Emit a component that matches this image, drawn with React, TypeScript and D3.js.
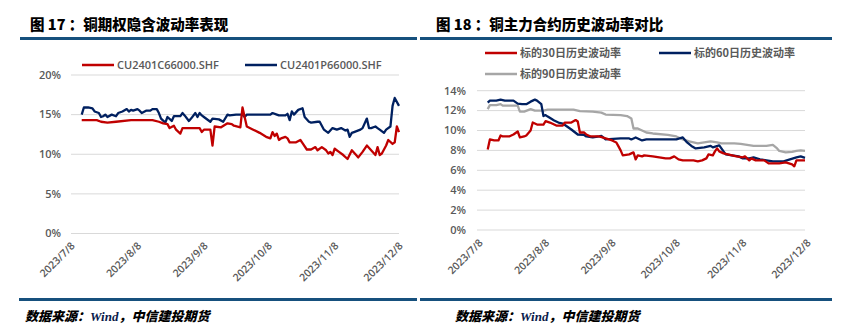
import React from "react";
import * as d3 from "d3";

type P = [string, number];

const tickDates = ["2023-07-08", "2023-08-08", "2023-09-08", "2023-10-08", "2023-11-08", "2023-12-08"];
const tickLabels = ["2023/7/8", "2023/8/8", "2023/9/8", "2023/10/8", "2023/11/8", "2023/12/8"];

const leftTicks = [0, 5, 10, 15, 20];
const rightTicks = [0, 2, 4, 6, 8, 10, 12, 14];

const leftTitle = "图 17 ：铜期权隐含波动率表现";
const rightTitle = "图 18 ：铜主力合约历史波动率对比";
const leftSeriesNames = ["CU2401C66000.SHF", "CU2401P66000.SHF"];
const rightSeriesNames = ["标的30日历史波动率", "标的60日历史波动率", "标的90日历史波动率"];

const callIV: P[] = [
  ["2023-07-13", 14.3], ["2023-07-20", 14.3], ["2023-07-22", 14.1], ["2023-07-25", 14.0], ["2023-07-29", 14.1],
  ["2023-08-05", 14.3], ["2023-08-15", 14.3], ["2023-08-18", 14.1], ["2023-08-20", 13.9], ["2023-08-22", 13.8],
  ["2023-08-23", 13.3], ["2023-08-25", 13.6], ["2023-08-26", 13.1], ["2023-08-28", 12.6], ["2023-08-29", 13.3],
  ["2023-09-06", 13.3], ["2023-09-07", 12.8], ["2023-09-08", 13.1], ["2023-09-11", 13.1], ["2023-09-12", 11.1],
  ["2023-09-13", 13.5], ["2023-09-16", 13.4], ["2023-09-19", 13.9], ["2023-09-21", 13.8], ["2023-09-22", 13.6],
  ["2023-09-25", 13.4], ["2023-09-26", 15.9], ["2023-09-28", 13.5], ["2023-10-01", 13.1], ["2023-10-04", 12.7],
  ["2023-10-07", 12.2], ["2023-10-09", 12.0], ["2023-10-10", 12.8], ["2023-10-11", 12.3], ["2023-10-12", 12.6],
  ["2023-10-13", 11.8], ["2023-10-14", 12.0], ["2023-10-16", 12.2], ["2023-10-17", 12.0], ["2023-10-18", 11.5],
  ["2023-10-21", 11.5], ["2023-10-23", 11.8], ["2023-10-24", 11.4], ["2023-10-26", 10.6], ["2023-10-28", 10.6],
  ["2023-10-30", 10.9], ["2023-10-31", 10.5], ["2023-11-02", 10.9], ["2023-11-04", 10.5], ["2023-11-05", 10.1],
  ["2023-11-06", 10.3], ["2023-11-07", 9.9], ["2023-11-08", 10.7], ["2023-11-10", 10.3], ["2023-11-12", 9.9],
  ["2023-11-14", 9.4], ["2023-11-16", 10.5], ["2023-11-18", 9.9], ["2023-11-19", 9.6], ["2023-11-21", 10.3],
  ["2023-11-23", 11.1], ["2023-11-25", 10.5], ["2023-11-27", 9.9], ["2023-11-28", 10.9], ["2023-11-29", 9.9],
  ["2023-11-30", 10.1], ["2023-12-02", 11.1], ["2023-12-03", 11.8], ["2023-12-05", 11.3], ["2023-12-06", 11.5],
  ["2023-12-07", 13.5], ["2023-12-08", 12.8],
];

const putIV: P[] = [
  ["2023-07-13", 15.0], ["2023-07-14", 15.9], ["2023-07-16", 15.9], ["2023-07-18", 15.8], ["2023-07-19", 15.4],
  ["2023-07-21", 15.2], ["2023-07-22", 14.7], ["2023-07-23", 14.8], ["2023-07-24", 15.0], ["2023-07-25", 14.7],
  ["2023-07-27", 15.0], ["2023-07-29", 14.8], ["2023-07-30", 15.2], ["2023-08-01", 15.4], ["2023-08-03", 15.7],
  ["2023-08-04", 15.4], ["2023-08-05", 15.6], ["2023-08-06", 15.5], ["2023-08-08", 15.7], ["2023-08-09", 15.5],
  ["2023-08-10", 15.2], ["2023-08-12", 15.5], ["2023-08-14", 15.5], ["2023-08-15", 15.7], ["2023-08-17", 15.7],
  ["2023-08-18", 15.2], ["2023-08-19", 14.5], ["2023-08-21", 14.0], ["2023-08-22", 14.7], ["2023-08-24", 14.2],
  ["2023-08-25", 14.8], ["2023-08-26", 14.8], ["2023-08-28", 14.8], ["2023-08-29", 15.2], ["2023-08-30", 14.9],
  ["2023-09-01", 14.2], ["2023-09-02", 14.5], ["2023-09-04", 15.2], ["2023-09-05", 14.7], ["2023-09-06", 15.2],
  ["2023-09-07", 14.9], ["2023-09-08", 14.7], ["2023-09-11", 14.1], ["2023-09-12", 14.5], ["2023-09-15", 14.4],
  ["2023-09-17", 14.1], ["2023-09-19", 15.0], ["2023-09-20", 14.9], ["2023-09-23", 15.0], ["2023-09-26", 15.0],
  ["2023-09-27", 14.7], ["2023-09-28", 15.0], ["2023-10-09", 15.0], ["2023-10-10", 15.2], ["2023-10-12", 15.0],
  ["2023-10-13", 14.9], ["2023-10-16", 14.9], ["2023-10-17", 15.1], ["2023-10-18", 14.3], ["2023-10-19", 15.4],
  ["2023-10-20", 15.0], ["2023-10-22", 15.6], ["2023-10-24", 15.8], ["2023-10-25", 14.7], ["2023-10-27", 14.1],
  ["2023-10-28", 14.0], ["2023-10-31", 14.1], ["2023-11-01", 14.1], ["2023-11-03", 13.1], ["2023-11-05", 12.7],
  ["2023-11-07", 13.3], ["2023-11-09", 13.1], ["2023-11-11", 13.3], ["2023-11-13", 13.0], ["2023-11-14", 13.1],
  ["2023-11-15", 12.2], ["2023-11-16", 12.7], ["2023-11-17", 12.8], ["2023-11-20", 13.1], ["2023-11-21", 13.3],
  ["2023-11-23", 14.5], ["2023-11-24", 13.3], ["2023-11-25", 13.3], ["2023-11-27", 13.5], ["2023-11-28", 13.3],
  ["2023-11-29", 13.1], ["2023-12-01", 12.7], ["2023-12-02", 13.1], ["2023-12-04", 13.5], ["2023-12-05", 16.1],
  ["2023-12-06", 17.1], ["2023-12-08", 16.1],
];

const hv30: P[] = [
  ["2023-07-13", 8.1], ["2023-07-14", 9.1], ["2023-07-16", 9.0], ["2023-07-18", 9.0], ["2023-07-19", 9.5],
  ["2023-07-20", 9.4], ["2023-07-23", 9.4], ["2023-07-25", 9.6], ["2023-07-27", 9.9], ["2023-07-28", 9.3],
  ["2023-07-30", 9.4], ["2023-07-31", 9.5], ["2023-08-02", 10.0], ["2023-08-03", 10.8], ["2023-08-05", 10.6],
  ["2023-08-08", 10.6], ["2023-08-09", 10.95], ["2023-08-11", 10.8], ["2023-08-14", 10.5], ["2023-08-17", 10.5],
  ["2023-08-18", 10.8], ["2023-08-21", 10.8], ["2023-08-23", 11.05], ["2023-08-24", 10.9], ["2023-08-25", 9.8],
  ["2023-08-27", 9.8], ["2023-08-28", 9.6], ["2023-08-30", 9.4], ["2023-09-03", 9.4], ["2023-09-06", 9.2],
  ["2023-09-09", 9.0], ["2023-09-11", 8.8], ["2023-09-12", 8.4], ["2023-09-13", 8.0], ["2023-09-14", 7.5],
  ["2023-09-17", 7.6], ["2023-09-19", 7.8], ["2023-09-20", 7.1], ["2023-09-21", 7.5], ["2023-09-23", 7.4],
  ["2023-09-24", 7.5], ["2023-09-28", 7.4], ["2023-10-04", 7.2], ["2023-10-06", 7.2], ["2023-10-08", 7.4],
  ["2023-10-10", 7.1], ["2023-10-12", 7.0], ["2023-10-15", 7.0], ["2023-10-17", 7.0], ["2023-10-19", 6.9],
  ["2023-10-21", 7.0], ["2023-10-23", 7.2], ["2023-10-24", 7.6], ["2023-10-26", 7.5], ["2023-10-27", 7.9],
  ["2023-10-28", 8.2], ["2023-10-29", 7.9], ["2023-10-31", 7.7], ["2023-11-02", 7.6], ["2023-11-04", 7.5],
  ["2023-11-06", 7.4], ["2023-11-09", 7.3], ["2023-11-10", 7.4], ["2023-11-12", 7.0], ["2023-11-13", 7.2],
  ["2023-11-15", 7.0], ["2023-11-19", 7.0], ["2023-11-21", 6.7], ["2023-11-23", 6.7], ["2023-11-26", 6.7],
  ["2023-11-29", 6.8], ["2023-12-02", 6.6], ["2023-12-03", 6.4], ["2023-12-04", 7.0], ["2023-12-06", 7.0],
  ["2023-12-08", 7.0],
];

const hv60: P[] = [
  ["2023-07-13", 12.8], ["2023-07-14", 13.0], ["2023-07-17", 13.0], ["2023-07-19", 13.1], ["2023-07-21", 13.0],
  ["2023-07-23", 13.0], ["2023-07-25", 13.0], ["2023-07-27", 12.7], ["2023-07-29", 12.65], ["2023-07-31", 12.65],
  ["2023-08-02", 12.9], ["2023-08-04", 13.1], ["2023-08-05", 13.0], ["2023-08-07", 12.65], ["2023-08-08", 11.45],
  ["2023-08-09", 11.55], ["2023-08-10", 11.4], ["2023-08-13", 11.0], ["2023-08-15", 10.8], ["2023-08-17", 10.7],
  ["2023-08-19", 10.4], ["2023-08-21", 10.1], ["2023-08-24", 9.6], ["2023-08-27", 9.55], ["2023-08-28", 9.4],
  ["2023-08-31", 9.3], ["2023-09-03", 9.4], ["2023-09-04", 9.45], ["2023-09-06", 9.1], ["2023-09-13", 9.2],
  ["2023-09-17", 9.2], ["2023-09-18", 9.1], ["2023-09-20", 9.3], ["2023-09-22", 9.1], ["2023-09-23", 9.0],
  ["2023-09-25", 9.1], ["2023-10-09", 9.1], ["2023-10-12", 9.3], ["2023-10-14", 8.8], ["2023-10-16", 8.45],
  ["2023-10-18", 8.2], ["2023-10-22", 8.3], ["2023-10-25", 8.45], ["2023-10-26", 8.3], ["2023-10-29", 8.5],
  ["2023-10-30", 8.2], ["2023-11-01", 7.6], ["2023-11-04", 7.5], ["2023-11-07", 7.4], ["2023-11-09", 7.2],
  ["2023-11-12", 7.2], ["2023-11-14", 7.3], ["2023-11-17", 7.1], ["2023-11-20", 7.0], ["2023-11-23", 6.9],
  ["2023-11-28", 6.9], ["2023-12-01", 7.1], ["2023-12-04", 7.3], ["2023-12-06", 7.4], ["2023-12-08", 7.25],
];

const hv90: P[] = [
  ["2023-07-13", 12.15], ["2023-07-14", 12.55], ["2023-07-17", 12.55], ["2023-07-19", 12.65], ["2023-07-20", 12.5],
  ["2023-07-27", 12.5], ["2023-07-28", 11.9], ["2023-07-30", 11.9], ["2023-08-02", 12.15], ["2023-08-04", 12.0],
  ["2023-08-08", 12.0], ["2023-08-10", 12.1], ["2023-08-16", 12.1], ["2023-08-22", 12.1], ["2023-08-25", 11.95],
  ["2023-08-31", 11.9], ["2023-09-04", 11.8], ["2023-09-06", 11.6], ["2023-09-13", 11.55], ["2023-09-16", 11.45],
  ["2023-09-18", 11.2], ["2023-09-19", 10.2], ["2023-09-21", 10.2], ["2023-09-22", 10.1], ["2023-09-24", 9.9],
  ["2023-09-25", 9.8], ["2023-09-28", 9.7], ["2023-10-05", 9.55], ["2023-10-09", 9.4], ["2023-10-12", 9.1],
  ["2023-10-15", 8.9], ["2023-10-19", 8.7], ["2023-10-22", 8.8], ["2023-10-25", 8.9], ["2023-10-28", 8.8],
  ["2023-10-30", 8.7], ["2023-11-05", 8.7], ["2023-11-08", 8.65], ["2023-11-11", 8.55], ["2023-11-14", 8.45],
  ["2023-11-20", 8.45], ["2023-11-23", 8.55], ["2023-11-25", 8.2], ["2023-11-26", 7.95], ["2023-11-29", 7.8],
  ["2023-12-02", 7.85], ["2023-12-04", 7.95], ["2023-12-06", 8.0], ["2023-12-08", 7.95],
];

const RED = "#C00000";
const NAVY = "#002060";
const GRAY = "#A6A6A6";
const RULE = "#16507D";
const TXT = "#595959";
const CJK = "'Noto Sans CJK SC', 'Noto Sans', sans-serif";
const NUM = "'Open Sans', 'Noto Sans', sans-serif";

const parse = d3.timeParse("%Y-%m-%d");
const domain: [Date, Date] = [parse(tickDates[0])!, parse(tickDates[tickDates.length - 1])!];

type PanelProps = {
  x0: number; x1: number; yTop: number; yBottom: number; yMax: number; ticks: number[];
  tickRight: number; series: { data: P[]; color: string }[]; labelDx: number; labelY: number;
};

function Panel(p: PanelProps) {
  const x = d3.scaleTime().domain(domain).range([p.x0, p.x1]);
  const y = d3.scaleLinear().domain([0, p.yMax]).range([p.yBottom, p.yTop]);
  const line = d3.line<P>().x((d) => x(parse(d[0])!)).y((d) => y(d[1]));
  return (
    <g>
      {p.ticks.map((t) => (
        <g key={t}>
          <line x1={p.x0} x2={p.x1} y1={y(t)} y2={y(t)} stroke="#D9D9D9" strokeWidth={1} />
          <text x={p.tickRight} y={y(t)} dy="0.35em" textAnchor="end" fontFamily={NUM} fontSize={11} fontWeight={600} fill={TXT}>
            {t}%
          </text>
        </g>
      ))}
      {tickDates.map((td, i) => {
        const tx = x(parse(td)!) + p.labelDx;
        return (
          <text key={td} transform={`translate(${tx},${p.labelY}) rotate(-45)`} textAnchor="end" dy="0.35em"
            fontFamily={NUM} fontSize={10.5} fontWeight={600} fill={TXT}>
            {tickLabels[i]}
          </text>
        );
      })}
      {p.series.map((s, i) => (
        <path key={i} d={line(s.data) || ""} fill="none" stroke={s.color} strokeWidth={2.3} strokeLinejoin="round" />
      ))}
    </g>
  );
}

function Legend({ x, y, color, label }: { x: number; y: number; color: string; label: string }) {
  return (
    <g>
      <line x1={x} x2={x + 32} y1={y} y2={y} stroke={color} strokeWidth={2.5} />
      <text x={x + 35} y={y} dy="0.35em" fontFamily={label.startsWith("CU") ? NUM : CJK} fontSize={11}
        fontWeight={label.startsWith("CU") ? 600 : 700} fill={TXT}>
        {label}
      </text>
    </g>
  );
}

function Footer({ x }: { x: number }) {
  return (
    <text x={x} y={316} dy="0.35em" fontSize={13} fontWeight={900} fontStyle="italic" fontFamily={CJK} fill="#000">
      数据来源：<tspan fontFamily="'Liberation Serif', serif" fontWeight={700} fill="#0b1a4a">Wind</tspan>，中信建投期货
    </text>
  );
}

export default function App() {
  return (
    <svg width={842} height={335} style={{ position: "absolute", left: 0, top: 0, background: "#fff" }}>
      <rect width={842} height={335} fill="#fff" />
      <text x={30} y={25} dy="0.35em" fontFamily={CJK} fontSize={14.5} fontWeight={900} fill="#000">{leftTitle}</text>
      <text x={436} y={25} dy="0.35em" fontFamily={CJK} fontSize={14.5} fontWeight={900} fill="#000">{rightTitle}</text>
      <rect x={20} y={37} width={397} height={3} fill={RULE} />
      <rect x={420} y={37} width={412} height={3} fill={RULE} />
      <rect x={19} y={298} width={398} height={3} fill={RULE} />
      <rect x={420} y={298} width={412} height={3} fill={RULE} />

      <Legend x={82} y={65} color={RED} label={leftSeriesNames[0]} />
      <Legend x={245} y={65} color={NAVY} label={leftSeriesNames[1]} />
      <Panel x0={71} x1={399} yTop={75} yBottom={233.5} yMax={20} ticks={leftTicks} tickRight={61}
        series={[{ data: putIV, color: NAVY }, { data: callIV, color: RED }]} labelDx={2} labelY={244} />

      <Legend x={485} y={53} color={RED} label={rightSeriesNames[0]} />
      <Legend x={659} y={53} color={NAVY} label={rightSeriesNames[1]} />
      <Legend x={485} y={74} color={GRAY} label={rightSeriesNames[2]} />
      <Panel x0={477} x1={805} yTop={90.7} yBottom={230} yMax={14} ticks={rightTicks} tickRight={466}
        series={[{ data: hv90, color: GRAY }, { data: hv60, color: NAVY }, { data: hv30, color: RED }]}
        labelDx={4} labelY={241} />

      <Footer x={25} />
      <Footer x={455} />
    </svg>
  );
}
